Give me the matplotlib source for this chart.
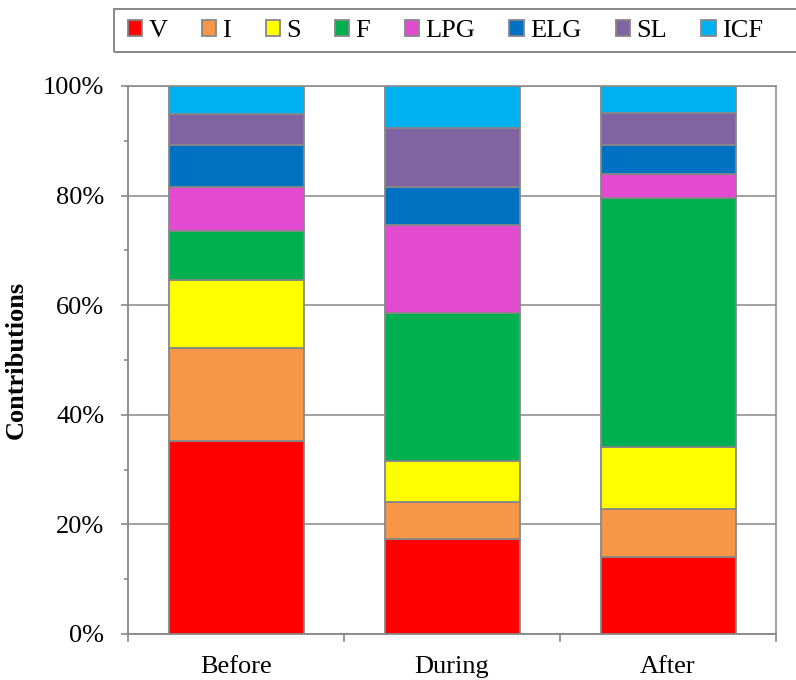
import matplotlib
matplotlib.use("Agg")
import matplotlib.pyplot as plt
from matplotlib.patches import Rectangle
from matplotlib.ticker import MultipleLocator, PercentFormatter, NullFormatter
import numpy as np

plt.rcParams['font.family'] = ['Liberation Serif', 'DejaVu Serif']

# data (percent contributions)
periods = ["Before", "During", "After"]
sources = ["V", "I", "S", "F", "LPG", "ELG", "SL", "ICF"]
V   = [35.3, 17.3, 14.1]
I   = [16.9,  6.8,  8.8]
S   = [12.4,  7.5, 11.3]
F   = [ 8.9, 27.0, 45.4]
LPG = [ 8.0, 16.0,  4.3]
ELG = [ 7.7,  7.0,  5.3]
SL  = [ 5.7, 10.7,  5.9]
ICF = [ 5.1,  7.7,  4.9]
series = [V, I, S, F, LPG, ELG, SL, ICF]
colors = ["#FF0000", "#F79646", "#FFFF00", "#00B050",
          "#E24BCF", "#0070C0", "#8064A2", "#00B0F0"]

grey = "#878787"
fs = 19

W, H = 796, 680
fig = plt.figure(figsize=(W / 100, H / 100), dpi=100)
ax = fig.add_axes([128 / W, 1 - 634 / H, (776 - 128) / W, (634 - 86) / H])

x = np.arange(len(periods))
bottom = np.zeros(len(periods))
handles = []
for name, vals, c in zip(sources, series, colors):
    b = ax.bar(x, vals, 0.625, bottom=bottom, color=c, edgecolor=grey,
               linewidth=1.3, label=name, zorder=3)
    handles.append(b)
    bottom += np.array(vals)

ax.set_xlim(-0.5, 2.5)
ax.set_ylim(0, 100)

# y axis
ax.yaxis.set_major_locator(MultipleLocator(20))
ax.yaxis.set_minor_locator(MultipleLocator(10))
ax.yaxis.set_major_formatter(PercentFormatter(decimals=0))
ax.tick_params(axis="y", which="major", length=5, width=1.2, color=grey,
               labelsize=fs, pad=12)
ax.tick_params(axis="y", which="minor", length=3.2, width=1.2, color=grey)
ax.grid(axis="y", which="major", color=grey, linewidth=1.1, zorder=0)

# x axis: ticks at the category boundaries, labels at centres
ax.set_xticks([-0.5, 0.5, 1.5, 2.5])
ax.xaxis.set_major_formatter(NullFormatter())
ax.set_xticks(x, minor=True)
ax.set_xticklabels(periods, minor=True)
ax.tick_params(axis="x", which="major", length=6, width=1.2, color=grey)
ax.tick_params(axis="x", which="minor", length=0, labelsize=fs, pad=16)

for s in ax.spines.values():
    s.set_color(grey)
    s.set_linewidth(1.3)
ax.spines["top"].set_linewidth(1.1)
ax.spines["right"].set_linewidth(1.1)

ax.set_ylabel("Contributions", fontsize=fs, fontweight="bold")
ax.yaxis.set_label_coords(-0.154, 0.5)

# legend across the top
fig.legend(handles=handles, labels=sources, loc="center left",
           bbox_to_anchor=(128 / W, 1 - 31 / H), ncol=8, frameon=False,
           fontsize=fs, borderpad=0, handlelength=0.54, handleheight=0.54,
           handletextpad=0.24, columnspacing=1.3, borderaxespad=0)
fig.add_artist(Rectangle((114 / W, 1 - 52 / H), (W + 10 - 114) / W, 43 / H,
                         transform=fig.transFigure, fill=False,
                         edgecolor=grey, linewidth=1.4))

fig.savefig("out.png", dpi=100)
